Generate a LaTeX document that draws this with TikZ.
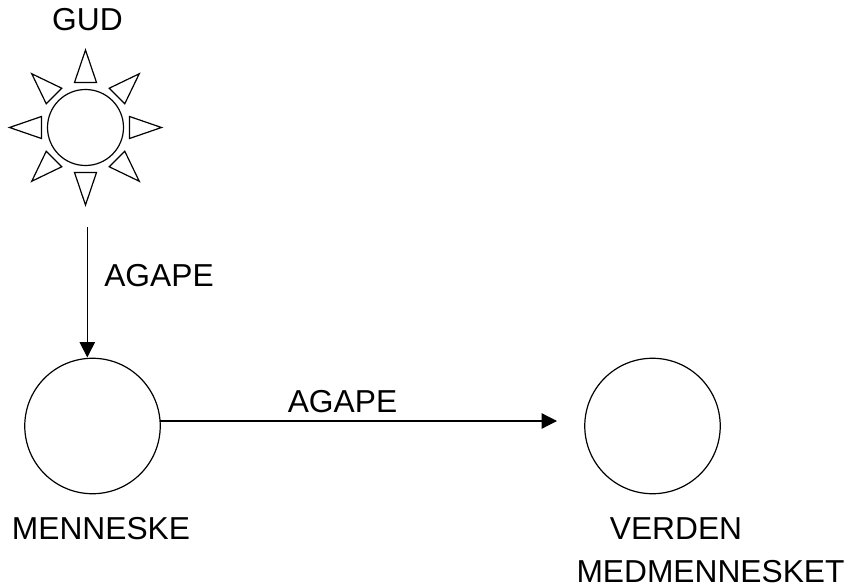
\documentclass[tikz,border=0pt]{standalone}
\usepackage{fontspec}
\setmainfont{Liberation Sans}
\usetikzlibrary{arrows.meta}
\tikzset{
 lbl/.style={font=\fontsize{23.8}{28}\selectfont,inner sep=0pt,anchor=center,align=center},
 circ/.style={circle,draw=black,line width=0.9pt,minimum size=101.6pt,inner sep=0pt,outer sep=0pt},
 sun/.style={circle,draw=black,line width=0.9pt,minimum size=57pt,inner sep=0pt},
 ray/.style={draw=black,line width=0.9pt,line join=miter},
 arr/.style={draw=black,line width=0.9pt,-{Triangle[length=11.5pt,width=11.5pt]}}
}
\begin{document}
\begin{tikzpicture}[x=0.75pt,y=-0.75pt]
\useasboundingbox (0,0) rectangle (846,585);
\node[lbl] (gud) at (87.5,19.5) {GUD};
\node[sun] (s) at (85.5,127.5) {};
\foreach \a/\b/\t in {0/44/76,90/45/77.5,180/44/76,270/45/77.5,45/44.5/76,135/44.5/76,225/44.5/76,315/44.5/76}{
 \begin{scope}[shift={(85.5,127.5)},rotate=\a]
  \draw[ray] (\b,-11) -- (\b,11) -- (\t,0) -- cycle;
 \end{scope}
}
\coordinate (top) at (87.3,227);
\coordinate (tip) at (557,421);
\node[circ] (m) at (92.5,426) {};
\node[circ] (v) at (652.5,426) {};
\coordinate (st) at (m.east |- tip);
\draw[arr,shorten >=0.6pt] (top) -- (m.north -| top);
\draw[arr] (st) -- (tip);
\node[lbl] (a1) at (159,275.5) {AGAPE};
\node[lbl] (a2) at (342.5,402) {AGAPE};
\node[lbl] (men) at (101,529) {MENNESKE};
\node[lbl] (ver) at (676,529) {VERDEN};
\node[lbl] (med) at (710.5,571.5) {MEDMENNESKET};
\end{tikzpicture}
\end{document}
